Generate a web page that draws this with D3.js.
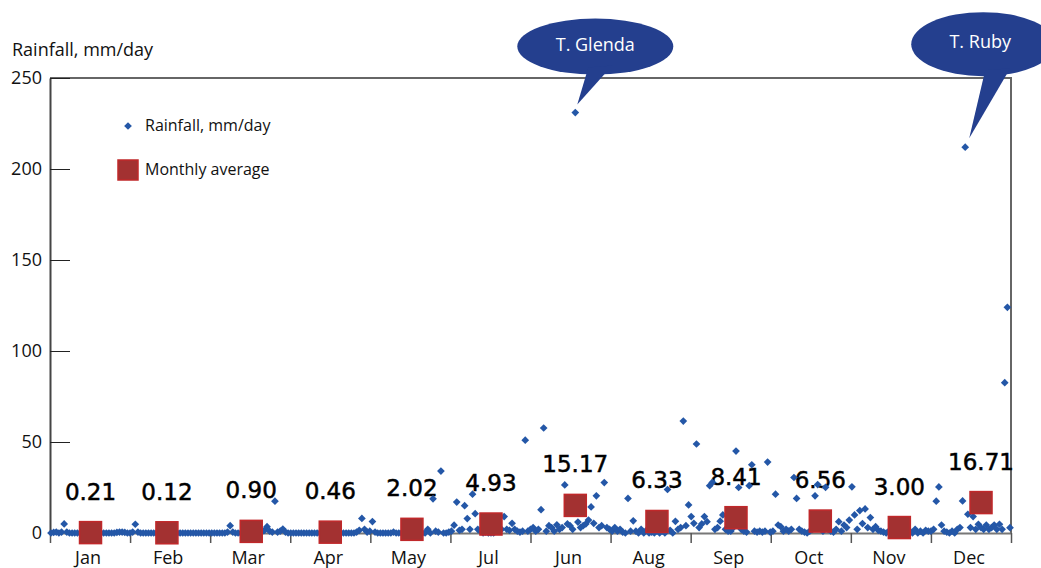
<!DOCTYPE html>
<html>
<head>
<meta charset="utf-8">
<script src="https://cdn.jsdelivr.net/npm/d3@7"></script>
<style>
  body { margin: 0; background: #fff; }
</style>
</head>
<body>
<div id="chart"></div>
<script>
// month tick labels (as printed on the original chart)
const monthLabels = ["Jan", "Feb", "Mar", "Apr", "May", "Jul", "Jun", "Aug", "Sep", "Oct", "Nov", "Dec"];

// daily rainfall, mm/day
const janRain = [0, 0.3, 0.5, 0, 0.5, 5, 0.5, 0, 0, 0, 0, 0, 0, 0, 0, 0, 0, 0, 0, 0, 0, 0, 0, 0, 0, 0.3, 0.5, 0.5, 0.3, 0, 0];
const febRain = [0.5, 4.8, 0.5, 0, 0, 0, 0, 0, 0, 0, 0, 0, 0, 0, 0, 0, 0, 0, 0, 0, 0, 0, 0, 0, 0, 0, 0, 0];
const marRain = [0, 0, 0, 0, 0, 0, 0, 0, 0.5, 4, 0.5, 0, 0, 0, 0, 0, 0, 0, 0, 0, 0, 0.5, 1.5, 3.5, 1, 0.5, 17.5, 0.5, 1, 2.2, 0.5];
const aprRain = [0, 0, 0, 0, 0, 0, 0, 0, 0, 0, 0, 0, 0, 0, 0, 0, 0, 0, 0, 0, 0, 0, 0, 0, 0, 0, 0.5, 1.5, 8, 2];
const mayRain = [0.5, 1, 6.3, 0.5, 0, 0, 0, 0, 0, 0, 0.5, 0, 0, 0, 0, 0, 1, 3, 1, 0, 0, 0, 0, 2, 0, 18.8, 1, 0.5, 34, 0, 0];
const junRain = [0.5, 1, 4.3, 17, 1.5, 2, 15, 7.9, 2, 21.3, 10.6, 2, 1, 0, 0.5, 0, 0, 0, 1, 1.5, 2, 9, 2, 1.5, 5.3, 2, 1, 0.5, 1, 51];
const julRain = [1, 2, 3, 1, 2, 12.8, 57.7, 1, 4, 3, 1, 4.5, 2, 3, 26.4, 5, 4, 2, 231, 6, 3, 4, 5, 7.1, 14.3, 5.3, 20.4, 3, 4, 27.7, 3];
const augRain = [2, 1, 3, 1, 2, 0.5, 0, 19, 1, 6.7, 1, 0, 2, 0, 1.5, 0, 0.5, 0, 1, 0, 1, 0, 23.9, 1.5, 0, 6.4, 2, 3, 61.5, 4, 15.4];
const sepRain = [9, 5.3, 48.9, 3, 5, 9, 6.2, 26, 27.8, 2, 3, 6.5, 9.9, 2, 1, 1, 3, 45, 25, 2, 1, 0.5, 26, 37.5, 1, 0.5, 1, 0.5, 1, 39];
const octRain = [0.5, 1, 21.3, 4.4, 3.5, 1, 2, 1, 2, 30.5, 19, 2, 1, 0.5, 0, 1, 2, 20.4, 26.6, 3, 1, 25.1, 2, 1, 0.5, 2, 6.2, 1, 4.4, 3, 7.1];
const novRain = [25.4, 9.9, 2, 12.3, 5.2, 13.2, 3, 8.5, 2, 3.5, 1.5, 1, 0.5, 0, 1, 0, 0.5, 0, 1, 0, 1.5, 0, 1, 0, 2, 0, 1, 0, 1.5, 1];
const decRain = [1, 2, 17.5, 25.3, 4.4, 1, 0.5, 0, 1, 0, 2, 3, 17.6, 212, 10.3, 3, 9, 2, 4.8, 3, 2, 4.4, 2, 3, 4.4, 2, 4.8, 2, 82.6, 124, 2.9];

// monthly averages and the day of year where each one is plotted
const monthlyAvg = [0.21, 0.12, 0.90, 0.46, 2.02, 4.93, 15.17, 6.33, 8.41, 6.56, 3.00, 16.71];
const avgDay = [15, 44, 76, 106, 137, 167, 199, 230, 260, 292, 322, 353];

// the two cyclones called out on the chart (day of year)
const cyclones = [
    { name: "T. Glenda", day: 199 },
    { name: "T. Ruby", day: 347 }
];

const rain = [].concat(janRain, febRain, marRain, aprRain, mayRain, junRain,
    julRain, augRain, sepRain, octRain, novRain, decRain);

const width = 1041, height = 568;
const marginLeft = 50, marginRight = 30, marginTop = 78, marginBottom = 35;
const plotRight = width - marginRight;
const plotBottom = height - marginBottom;

const blue = "#2457a7";
const navy = "#243f8e";
const font = '"Open Sans", sans-serif';

const svg = d3.select('#chart').append('svg')
    .attr('width', width)
    .attr('height', height)
    .attr('viewBox', [0, 0, width, height])
    .attr('font-family', font);

const y = d3.scaleLinear([0, 250], [plotBottom, marginTop]);
const x = d3.scaleLinear([0, rain.length - 1], [marginLeft + 1, plotRight - 1]);
const xEdge = d3.scaleLinear([0, 12], [marginLeft, plotRight]);
const xMonth = d3.scaleBand(d3.range(12), [marginLeft, plotRight]);

// top + right frame
svg.append('path')
    .attr('fill', 'none')
    .attr('stroke', '#666')
    .attr('stroke-width', 2)
    .attr('d', `M${marginLeft},${marginTop}H${plotRight}V${plotBottom}`);

// y axis, ticks pointing inward
svg.append('g')
    .attr('transform', `translate(${marginLeft},0)`)
    .call(d3.axisLeft(y).tickValues([0, 50, 100, 150, 200, 250]).tickSize(-20).tickPadding(8).tickSizeOuter(0))
    .call(g => g.select('.domain').attr('stroke', '#444').attr('stroke-width', 2))
    .call(g => g.selectAll('.tick line').attr('stroke', '#222'))
    .call(g => g.selectAll('.tick text')
        .attr('font-size', 18)
        .attr('font-family', font)
        .attr('fill', '#111'));

// x axis line with ticks at month boundaries
svg.append('g')
    .attr('transform', `translate(0,${plotBottom})`)
    .call(d3.axisBottom(xEdge).tickValues(d3.range(13)).tickSize(10).tickFormat('').tickSizeOuter(0))
    .call(g => g.select('.domain').attr('stroke', '#777').attr('stroke-width', 2))
    .call(g => g.selectAll('.tick line').attr('stroke', '#555').attr('stroke-width', 1.5));

// month names centred in each band
svg.append('g')
    .attr('transform', `translate(-2,${plotBottom})`)
    .call(d3.axisBottom(xMonth).tickSize(0).tickPadding(18).tickFormat(i => monthLabels[i]))
    .call(g => g.select('.domain').remove())
    .call(g => g.selectAll('.tick text')
        .attr('font-size', 18)
        .attr('font-family', font)
        .attr('fill', '#111'));

// y title
svg.append('text')
    .attr('x', 12)
    .attr('y', 56)
    .attr('font-size', 18)
    .attr('fill', '#111')
    .text('Rainfall, mm/day');

// average value labels (drawn under the dots, like the original)
svg.append('g')
    .selectAll('text')
    .data(monthlyAvg)
    .join('text')
    .attr('x', (d, i) => x(avgDay[i]))
    .attr('y', d => y(d) - 33)
    .attr('text-anchor', 'middle')
    .attr('font-family', '"DejaVu Sans", sans-serif')
    .attr('font-size', 23)
    .attr('fill', '#000')
    .attr('stroke', '#000')
    .attr('stroke-width', 0.5)
    .text(d => d3.format('.2f')(d));

// daily dots
const diamond = d3.symbol(d3.symbolDiamond2, 38);
svg.append('g')
    .attr('fill', blue)
    .selectAll('path')
    .data(rain)
    .join('path')
    .attr('transform', (d, i) => `translate(${x(i)},${y(d)})`)
    .attr('d', diamond);

// monthly average squares
const sq = 22;
svg.append('g')
    .attr('fill', '#a33131')
    .attr('stroke', '#c0282a')
    .attr('stroke-width', 1.5)
    .selectAll('rect')
    .data(monthlyAvg)
    .join('rect')
    .attr('x', (d, i) => x(avgDay[i]) - sq / 2)
    .attr('y', d => y(d) - sq / 2)
    .attr('width', sq)
    .attr('height', sq);

// legend
const legend = svg.append('g').attr('font-size', 16).attr('fill', '#111');
legend.append('path')
    .attr('transform', 'translate(128,126)')
    .attr('fill', blue)
    .attr('d', diamond);
legend.append('text').attr('x', 145).attr('y', 131).text('Rainfall, mm/day');
legend.append('rect')
    .attr('x', 118).attr('y', 160).attr('width', 20).attr('height', 20)
    .attr('fill', '#a33131').attr('stroke', '#c0282a').attr('stroke-width', 1.5);
legend.append('text').attr('x', 145).attr('y', 175).text('Monthly average');

// speech-bubble callouts, anchored to the data points
const bubbleLayout = [
    { tip: [2, -8], c: [18, -58], rx: 78, ry: 28, base: [[11, -37], [35, -39]], txt: [0, 4] },
    { tip: [4, -9], c: [14, -94], rx: 72, ry: 32, base: [[16, -68], [41, -70]], txt: [-3, 4] }
];
cyclones.forEach((c, i) => {
    const L = bubbleLayout[i];
    const tx = x(c.day) + L.tip[0], ty = y(rain[c.day]) + L.tip[1];
    const cx = tx + L.c[0], cy = ty + L.c[1];
    const g = svg.append('g');
    g.append('ellipse')
        .attr('cx', cx).attr('cy', cy)
        .attr('rx', L.rx).attr('ry', L.ry)
        .attr('fill', navy);
    g.append('path')
        .attr('fill', navy)
        .attr('d', `M${tx + L.base[0][0]},${ty + L.base[0][1]}L${tx},${ty}L${tx + L.base[1][0]},${ty + L.base[1][1]}Z`);
    g.append('text')
        .attr('x', cx + L.txt[0]).attr('y', cy + L.txt[1])
        .attr('text-anchor', 'middle')
        .attr('font-size', 18)
        .attr('fill', '#fff')
        .text(c.name);
});
</script>
</body>
</html>
